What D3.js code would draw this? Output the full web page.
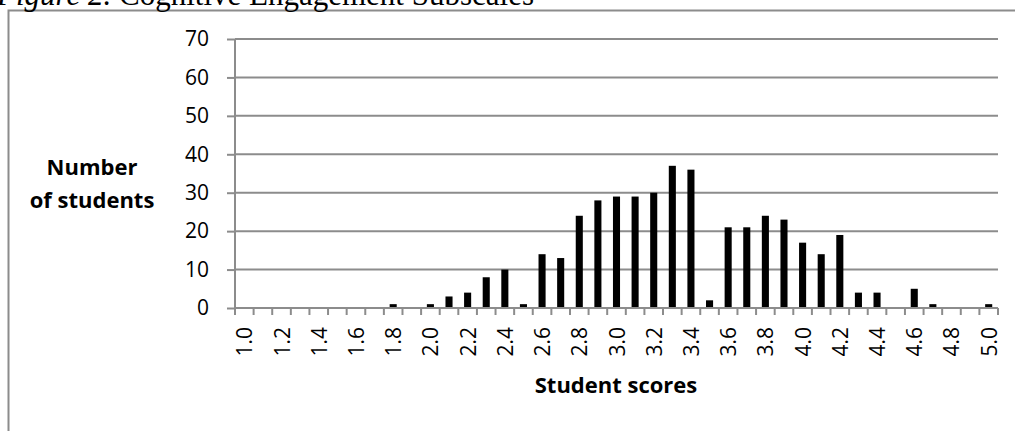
<!DOCTYPE html>
<html lang="en">
  <head>
    <meta charset="UTF-8" />
    <script src="https://d3js.org/d3.v7.min.js"></script>
    <title>Cognitive Engagement Subscales</title>
    <style>
      body { margin: 0; background: #fff; }
      .grid line { stroke: #8c8c8c; stroke-width: 2; }
      .axis path, .axis line { stroke: #8c8c8c; stroke-width: 2; }
      .axis text { font-family: 'Open Sans', sans-serif; font-size: 21px; fill: #000; }
      .label { font-family: 'Open Sans', sans-serif; font-weight: bold; font-size: 22px; fill: #000; }
    </style>
  </head>
  <body>
    <script>
      // scores 1.0 .. 5.0 and number of students per score
      const scores = ['1.0','1.1','1.2','1.3','1.4','1.5','1.6','1.7','1.8','1.9',
                      '2.0','2.1','2.2','2.3','2.4','2.5','2.6','2.7','2.8','2.9',
                      '3.0','3.1','3.2','3.3','3.4','3.5','3.6','3.7','3.8','3.9',
                      '4.0','4.1','4.2','4.3','4.4','4.5','4.6','4.7','4.8','4.9','5.0']
      const students = [0,0,0,0,0,0,0,0,1,0,
                        1,3,4,8,10,1,14,13,24,28,
                        29,29,30,37,36,2,21,21,24,23,
                        17,14,19,4,4,0,5,1,0,0,1]
      const yTicks = [0,10,20,30,40,50,60,70]

      const width = 1015
      const height = 431
      const plotLeft = 235, plotRight = 998, plotTop = 39, plotBottom = 308

      const svg = d3.select('body')
        .append('svg')
        .attr('width', width)
        .attr('height', height)

      // outer frame (only left and top show in the picture)
      svg.append('path')
        .attr('d', 'M8.5,' + height + 'V10.5H' + width)
        .attr('fill', 'none')
        .attr('stroke', '#8c8c8c')
        .attr('stroke-width', 2)

      const title = svg.append('text')
        .attr('x', -3)
        .attr('y', 5)
        .style('font-family', "'Liberation Serif', serif")
        .style('font-size', '31px')
      title.append('tspan').style('font-style', 'italic').text('Figure 2.')
      title.append('tspan').text(' Cognitive Engagement Subscales')

      const x = d3.scaleBand()
        .domain(scores)
        .range([plotLeft, plotRight])
        .paddingInner(0.62)
        .paddingOuter(0.31)

      const y = d3.scaleLinear()
        .domain([0, 70])
        .range([plotBottom, plotTop])

      svg.append('g')
        .attr('class', 'grid')
        .selectAll('line')
        .data(yTicks.filter(d => d > 0))
        .join('line')
        .attr('x1', plotLeft)
        .attr('x2', plotRight)
        .attr('y1', d => y(d))
        .attr('y2', d => y(d))

      svg.append('g')
        .selectAll('rect')
        .data(students)
        .join('rect')
        .attr('x', (d, i) => x(scores[i]))
        .attr('width', x.bandwidth())
        .attr('y', d => y(d))
        .attr('height', d => y(0) - y(d))
        .attr('fill', '#000')

      const yAxis = svg.append('g')
        .attr('class', 'axis')
        .attr('transform', 'translate(' + plotLeft + ',0)')
        .call(d3.axisLeft(y).tickValues(yTicks).tickSize(8).tickPadding(18))
      yAxis.select('.domain').attr('d', 'M0,' + plotTop + 'V' + plotBottom)

      // x axis: ticks between categories, labels on every other score
      const step = x.step()
      const bounds = d3.range(scores.length + 1).map(i => plotLeft + i * step)
      const xAxis = svg.append('g').attr('class', 'axis')
      xAxis.append('line')
        .attr('x1', plotLeft).attr('x2', plotRight)
        .attr('y1', plotBottom).attr('y2', plotBottom)
      xAxis.selectAll('.tick')
        .data(bounds)
        .join('line')
        .attr('class', 'tick')
        .attr('x1', d => d).attr('x2', d => d)
        .attr('y1', plotBottom).attr('y2', plotBottom + 7)
      xAxis.selectAll('text')
        .data(scores.filter((d, i) => i % 2 === 0))
        .join('text')
        .attr('transform', d => 'translate(' + (x(d) + x.bandwidth() / 2 + 8) + ',' + (plotBottom + 19) + ') rotate(-90)')
        .attr('text-anchor', 'end')
        .text(d => d)

      svg.append('text')
        .attr('class', 'label')
        .attr('x', 616)
        .attr('y', 393)
        .attr('text-anchor', 'middle')
        .text('Student scores')

      const yl = svg.append('text')
        .attr('class', 'label')
        .attr('text-anchor', 'middle')
      yl.append('tspan').attr('x', 92).attr('y', 175).text('Number')
      yl.append('tspan').attr('x', 92).attr('y', 208).text('of students')
    </script>
  </body>
</html>
